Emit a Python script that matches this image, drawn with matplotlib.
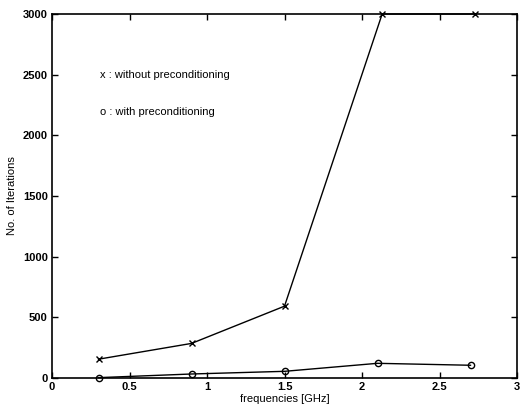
import matplotlib
matplotlib.use('Agg')
import matplotlib.pyplot as plt

plt.rcParams['font.family'] = ['Liberation Sans', 'DejaVu Sans']

freq_without = [0.3, 0.9, 1.5, 2.13, 2.73]
iter_without = [155, 285, 592, 3000, 3000]

freq_with = [0.3, 0.9, 1.5, 2.1, 2.7]
iter_with = [3, 33, 55, 121, 105]

fig = plt.figure(figsize=(5.21, 4.12), dpi=100)
ax = fig.add_axes([52 / 521, 34 / 412, 465 / 521, 364 / 412])

ax.plot(freq_without, iter_without, color='black', lw=1, marker='x', ms=5, mew=1, clip_on=False)
ax.plot(freq_with, iter_with, color='black', lw=1, marker='o', ms=4.5, mew=1,
        mfc='none', clip_on=False)

ax.text(0.31, 2500, 'x : without preconditioning', fontsize=8, va='center', ha='left')
ax.text(0.31, 2195, 'o : with preconditioning', fontsize=8, va='center', ha='left')

ax.set_xlim(0, 3)
ax.set_ylim(0, 3000)
ax.set_xticks([0, 0.5, 1, 1.5, 2, 2.5, 3])
ax.set_xticklabels(['0', '0.5', '1', '1.5', '2', '2.5', '3'])
ax.set_yticks([0, 500, 1000, 1500, 2000, 2500, 3000])
ax.tick_params(direction='in', top=True, right=True, labelsize=8, length=4, width=1, pad=3)
for lbl in ax.get_xticklabels() + ax.get_yticklabels():
    lbl.set_fontweight('bold')
for s in ax.spines.values():
    s.set_linewidth(1.2)

ax.set_xlabel('frequencies [GHz]', fontsize=8, labelpad=1)
ax.set_ylabel('No. of Iterations', fontsize=8, labelpad=4)

fig.savefig('out.png', dpi=100)
